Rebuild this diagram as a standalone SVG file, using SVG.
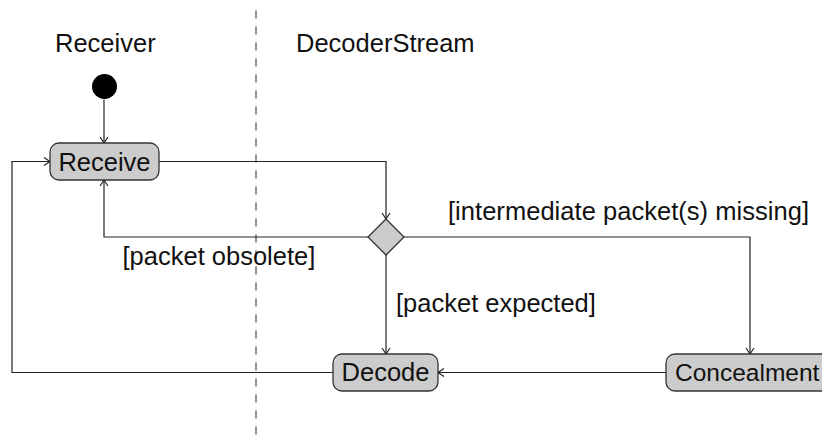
<svg xmlns="http://www.w3.org/2000/svg" width="822" height="436" viewBox="0 0 822 436">
  <defs>
    <marker id="arrow" viewBox="-8 -6 10 12" markerWidth="10" markerHeight="12" refX="0" refY="0" orient="auto" markerUnits="userSpaceOnUse">
      <path d="M-6,-4 L0,0 L-6,4" fill="none" stroke="#222" stroke-width="1.2"/>
    </marker>
    <style>
      text { font-family: "Liberation Sans", Arial, Helvetica, sans-serif; font-size: 25.5px; fill: #111; }
      .node { fill: #cccccc; stroke: #333; stroke-width: 1.3; }
      .label { text-anchor: middle; }
      .edge { fill: none; stroke: #222; stroke-width: 1.2; marker-end: url(#arrow); }
      .swimlane { stroke: #555; stroke-width: 1.3; stroke-dasharray: 8 8; }
    </style>
  </defs>

  <rect width="822" height="436" fill="#ffffff"/>

  <!-- swimlane divider and lane titles -->
  <line class="swimlane" x1="256" y1="10.5" x2="256" y2="436"/>
  <text x="55" y="52">Receiver</text>
  <text x="296" y="52">DecoderStream</text>

  <!-- connectors -->
  <g id="connectors">
    <path class="edge" d="M104,99.5 L104,143"/>
    <path class="edge" d="M159,161.5 L386,161.5 L386,219"/>
    <path class="edge" d="M368,237 L104,237 L104,180"/>
    <path class="edge" d="M404,237 L750,237 L750,354"/>
    <path class="edge" d="M386,255 L386,354"/>
    <path class="edge" d="M666,372.5 L438,372.5"/>
    <path class="edge" d="M333,372.5 L12,372.5 L12,161.5 L50,161.5"/>
    <text x="122.5" y="265">[packet obsolete]</text>
    <text x="448" y="220" textLength="361">[intermediate packet(s) missing]</text>
    <text x="396" y="312">[packet expected]</text>
  </g>

  <!-- nodes -->
  <g id="start">
    <circle cx="104.5" cy="86.5" r="12.5" fill="#000"/>
  </g>
  <g id="receive">
    <rect class="node" x="50" y="143" width="109" height="37" rx="9"/>
    <text class="label" x="104.5" y="170.5">Receive</text>
  </g>
  <g id="decision">
    <polygon class="node" points="386,219 404,237 386,255 368,237"/>
  </g>
  <g id="decode">
    <rect class="node" x="333" y="354" width="105" height="37" rx="9"/>
    <text class="label" x="385.5" y="381">Decode</text>
  </g>
  <g id="concealment">
    <rect class="node" x="666" y="354" width="175" height="37" rx="9"/>
    <text x="675" y="381" style="font-size:24.5px">Concealment</text>
  </g>
</svg>
